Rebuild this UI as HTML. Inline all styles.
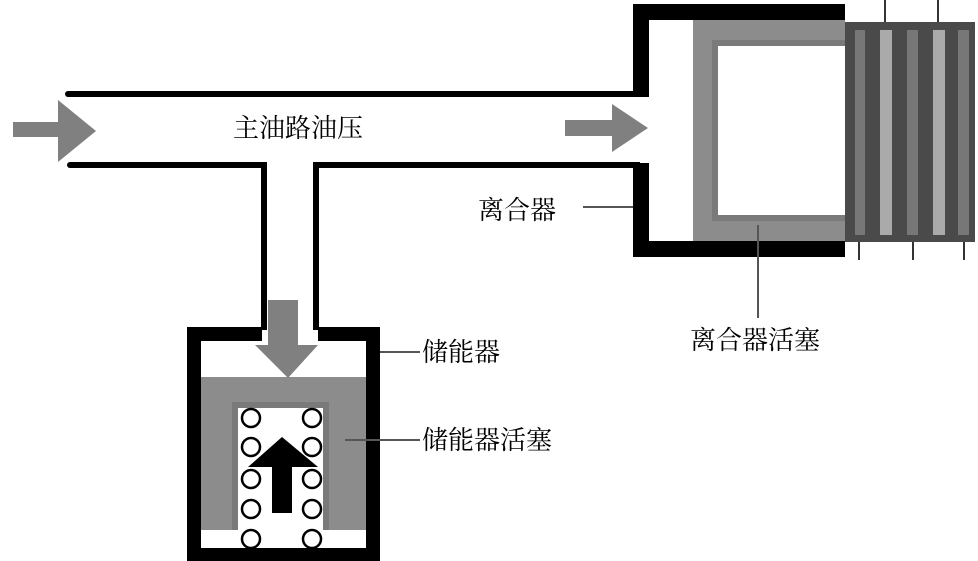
<!DOCTYPE html>
<html><head><meta charset="utf-8"><style>
html,body{margin:0;padding:0;background:#fff;}
svg{display:block;}
text{font-family:"Liberation Serif","Noto Serif CJK SC","Noto Sans CJK SC",serif;font-size:26px;fill:#000;}
</style></head><body>
<svg width="978" height="561" viewBox="0 0 978 561" xmlns="http://www.w3.org/2000/svg">
<line x1="68" y1="94" x2="640" y2="94" stroke="#000" stroke-width="6" stroke-linecap="round"/>
<line x1="70" y1="165" x2="264" y2="165" stroke="#000" stroke-width="6" stroke-linecap="round"/>
<line x1="316" y1="165" x2="640" y2="165" stroke="#000" stroke-width="6"/>
<line x1="264" y1="162" x2="264" y2="330" stroke="#000" stroke-width="6"/>
<line x1="316" y1="162" x2="316" y2="330" stroke="#000" stroke-width="6"/>
<polygon points="13,122 58,122 58,100 96,131 58,162 58,137 13,137" fill="#808080"/>
<polygon points="565,120 612,120 612,104 648,128 612,152 612,136 565,136" fill="#808080"/>
<path d="M845,12 H641 V97 M641,163 V249 H845" fill="none" stroke="#000" stroke-width="16"/>
<rect x="693" y="20" width="152" height="221" fill="#8c8c8c"/>
<rect x="712" y="40" width="133" height="181" fill="#7a7a7a"/>
<rect x="718" y="46" width="127" height="169" fill="#fff"/>
<rect x="845" y="22" width="130" height="220" fill="#4a4a4a"/>
<rect x="855" y="30" width="10" height="205" fill="#777"/>
<rect x="880" y="30" width="12" height="205" fill="#aaa"/>
<rect x="907" y="30" width="11" height="205" fill="#777"/>
<rect x="933" y="30" width="12" height="205" fill="#aaa"/>
<rect x="958" y="30" width="11" height="205" fill="#777"/>
<g stroke="#333" stroke-width="2">
<line x1="885" y1="0" x2="885" y2="22"/><line x1="938" y1="0" x2="938" y2="22"/>
<line x1="859" y1="242" x2="859" y2="260"/><line x1="913" y1="242" x2="913" y2="260"/><line x1="964" y1="242" x2="964" y2="260"/>
</g>
<path d="M262,334 H194 V555 H373 V334 H318" fill="none" stroke="#000" stroke-width="14"/>
<rect x="201" y="377" width="165" height="153" fill="#8c8c8c"/>
<rect x="232" y="402" width="97" height="128" fill="#7a7a7a"/>
<rect x="238" y="408" width="85" height="122" fill="#fff"/>
<g fill="none" stroke="#000" stroke-width="2.5">
<circle cx="251" cy="418" r="9"/><circle cx="312" cy="418" r="9"/>
<circle cx="251" cy="447" r="9"/><circle cx="312" cy="447" r="9"/>
<circle cx="251" cy="479" r="9"/><circle cx="312" cy="479" r="9"/>
<circle cx="251" cy="509" r="9"/><circle cx="312" cy="509" r="9"/>
<circle cx="251" cy="539" r="9"/><circle cx="312" cy="539" r="9"/>
</g>
<polygon points="282,437 318,467 292,467 292,513 272,513 272,467 248,467" fill="#000"/>
<polygon points="268,300 298,300 298,345 318,345 288,378 255,345 268,345" fill="#808080"/>
<g stroke="#555" stroke-width="2">
<line x1="583" y1="207" x2="633" y2="207"/>
<line x1="758" y1="225" x2="758" y2="318"/>
<line x1="380" y1="352" x2="420" y2="352"/>
<line x1="345" y1="440" x2="420" y2="440"/>
</g>
<text x="233" y="137">主油路油压</text>
<text x="478" y="219">离合器</text>
<text x="690" y="349">离合器活塞</text>
<text x="422" y="361">储能器</text>
<text x="422" y="449">储能器活塞</text>
</svg>
</body></html>
